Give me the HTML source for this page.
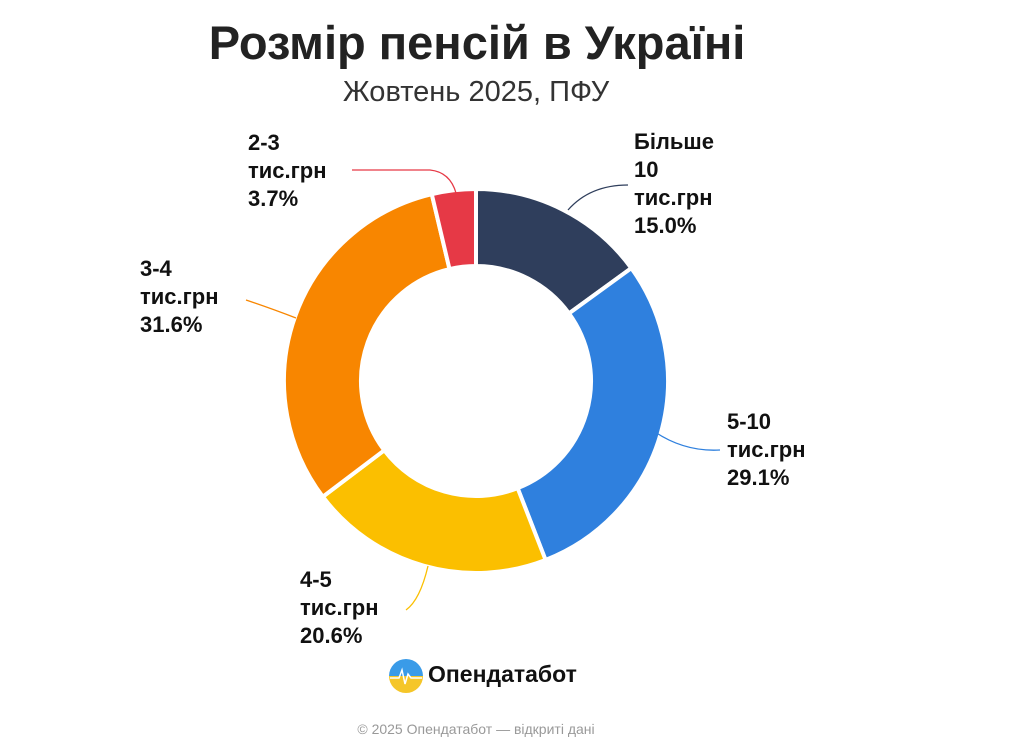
<!DOCTYPE html>
<html><head><meta charset="utf-8"><style>
body{margin:0;width:1024px;height:746px;background:#fff;font-family:"Liberation Sans",sans-serif;position:relative;overflow:hidden}
.t{position:absolute;white-space:nowrap}
.lab{position:absolute;font-weight:bold;font-size:22px;line-height:28px;color:#111}
</style></head><body>
<div class="t" style="left:0;width:954px;text-align:center;top:15px;font-size:47px;font-weight:bold;color:#222">Розмір пенсій в Україні</div>
<div class="t" style="left:0;width:952px;text-align:center;top:76px;font-size:29px;color:#333">Жовтень 2025, ПФУ</div>
<svg id="s" width="1024" height="746" style="position:absolute;left:0;top:0"></svg>
<div class="lab" style="left:634px;top:128px">Більше<br>10<br>тис.грн<br>15.0%</div>
<div class="lab" style="left:727px;top:408px">5-10<br>тис.грн<br>29.1%</div>
<div class="lab" style="left:300px;top:566px">4-5<br>тис.грн<br>20.6%</div>
<div class="lab" style="left:140px;top:255px">3-4<br>тис.грн<br>31.6%</div>
<div class="lab" style="left:248px;top:129px">2-3<br>тис.грн<br>3.7%</div>
<svg width="40" height="40" style="position:absolute;left:386px;top:656px"><defs><linearGradient id="g" x1="0" y1="0" x2="0" y2="1"><stop offset="0.5" stop-color="#3a9be8"/><stop offset="0.5" stop-color="#f5c629"/></linearGradient></defs><circle cx="20" cy="20" r="17" fill="url(#g)"/><polyline points="4,22 13,22 16,14 19,28 22,18 25,22 36,22" fill="none" stroke="#fff" stroke-width="1.5"/></svg>
<div class="t" style="left:428px;top:661px;font-size:23px;font-weight:bold;color:#111">Опендатабот</div>
<div class="t" style="left:0;width:952px;text-align:center;top:721px;font-size:14px;color:#999">© 2025 Опендатабот — відкриті дані</div>
<script>
var cx=476,cy=381,R=192,r=115,s=document.getElementById('s');
var d=[[15,'#2f3e5c'],[29.1,'#2f80de'],[20.6,'#fbbf00'],[31.6,'#f88600'],[3.7,'#e63946']];
function p(a,rr){a=a*Math.PI/180;return [cx+rr*Math.sin(a),cy-rr*Math.cos(a)]}
var a0=0,h='';
d.forEach(function(x){var a1=a0+x[0]*3.6,l=(a1-a0)>180?1:0;
var A=p(a0,R),B=p(a1,R),C=p(a1,r),D=p(a0,r);
h+='<path d="M'+A+' A'+R+','+R+' 0 '+l+' 1 '+B+' L'+C+' A'+r+','+r+' 0 '+l+' 0 '+D+'Z" fill="'+x[1]+'" stroke="#fff" stroke-width="4" stroke-linejoin="round"/>';a0=a1;});
h+='<path d="M568,210 Q590,185 628,185" fill="none" stroke="#2f3e5c" stroke-width="1.3"/>';
h+='<path d="M655,432 Q685,452 720,450" fill="none" stroke="#2f80de" stroke-width="1.3"/>';
h+='<path d="M428,566 Q420,600 406,610" fill="none" stroke="#fbbf00" stroke-width="1.3"/>';
h+='<path d="M246,300 Q270,308 296,318" fill="none" stroke="#f88600" stroke-width="1.3"/>';
h+='<path d="M352,170 L430,170 Q450,172 456,193" fill="none" stroke="#e63946" stroke-width="1.3"/>';
s.innerHTML=h;
</script>
</body></html>
